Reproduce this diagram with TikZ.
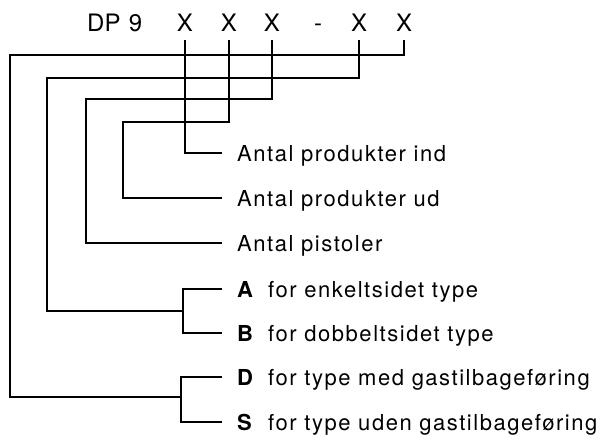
\documentclass[tikz,border=0pt]{standalone}
\usepackage{fontspec}
\newfontfamily\lblfam[LetterSpace=7]{TeX Gyre Heros}
\newfontfamily\topfam{TeX Gyre Heros}
\newcommand\lblfont{\lblfam\fontsize{22}{26}\selectfont}
\newcommand\topfont{\topfam\fontsize{24}{28}\selectfont}
\begin{document}
\begin{tikzpicture}[x=1pt,y=-1pt]
\tikzset{
  code/.style={anchor=base, inner sep=0pt, font=\topfont},
  lbl/.style={anchor=base west, inner sep=0pt, font=\lblfont},
  key/.style={anchor=base west, inner sep=0pt, font=\lblfont\bfseries},
  wire/.style={draw, line width=1.3pt, line join=miter}
}
\useasboundingbox (0,0) rectangle (605,441);
% code line
\node[code, anchor=base west] (dp) at (87,32) {DP};
\node[code] (nine) at (135.5,32) {9};
\node[code] (x1) at (185,32) {X};
\node[code] (x2) at (229,32) {X};
\node[code] (x3) at (272,32) {X};
\node[code] (dash) at (318,32) {-};
\node[code] (x4) at (359,32) {X};
\node[code] (x5) at (404,32) {X};
% labels
\node[lbl] (t1) at (237,161) {Antal produkter ind};
\node[lbl] (t2) at (237,206) {Antal produkter ud};
\node[lbl] (t3) at (237,251) {Antal pistoler};
\node[key] (kA) at (237,297) {A};
\node[lbl] (tA) at (268,297) {for enkeltsidet type};
\node[key] (kB) at (237,341) {B};
\node[lbl] (tB) at (268,341) {for dobbeltsidet type};
\node[key] (kD) at (237,385) {D};
\node[lbl] (tD) at (268,385) {for type med gastilbageføring};
\node[key] (kS) at (237,430) {S};
\node[lbl] (tS) at (268,430) {for type uden gastilbageføring};
% wire ends and corners
\coordinate (e1) at (222,153);
\coordinate (e2) at (222,198);
\coordinate (e3) at (222,243);
\coordinate (eA) at (222,289);
\coordinate (eB) at (222,333);
\coordinate (eD) at (222,377);
\coordinate (eS) at (222,422);
\coordinate (c2) at (123,122);
\coordinate (c3) at (86,99);
\coordinate (c4) at (47,78);
\coordinate (c5) at (10,55);
\coordinate (bAB) at (183,311);
\coordinate (bDS) at (181,397);
% connectors
\draw[wire] ([yshift=-8pt]x1.south) |- (e1);
\draw[wire] ([yshift=-8pt]x2.south) |- (c2) |- (e2);
\draw[wire] ([yshift=-8pt]x3.south) |- (c3) |- (e3);
\draw[wire] ([yshift=-8pt]x4.south) |- (c4) |- (bAB);
\draw[wire] ([yshift=-8pt]x5.south) |- (c5) |- (bDS);
\draw[wire] (eA) -| (bAB) |- (eB);
\draw[wire] (eD) -| (bDS) |- (eS);
\end{tikzpicture}
\end{document}
